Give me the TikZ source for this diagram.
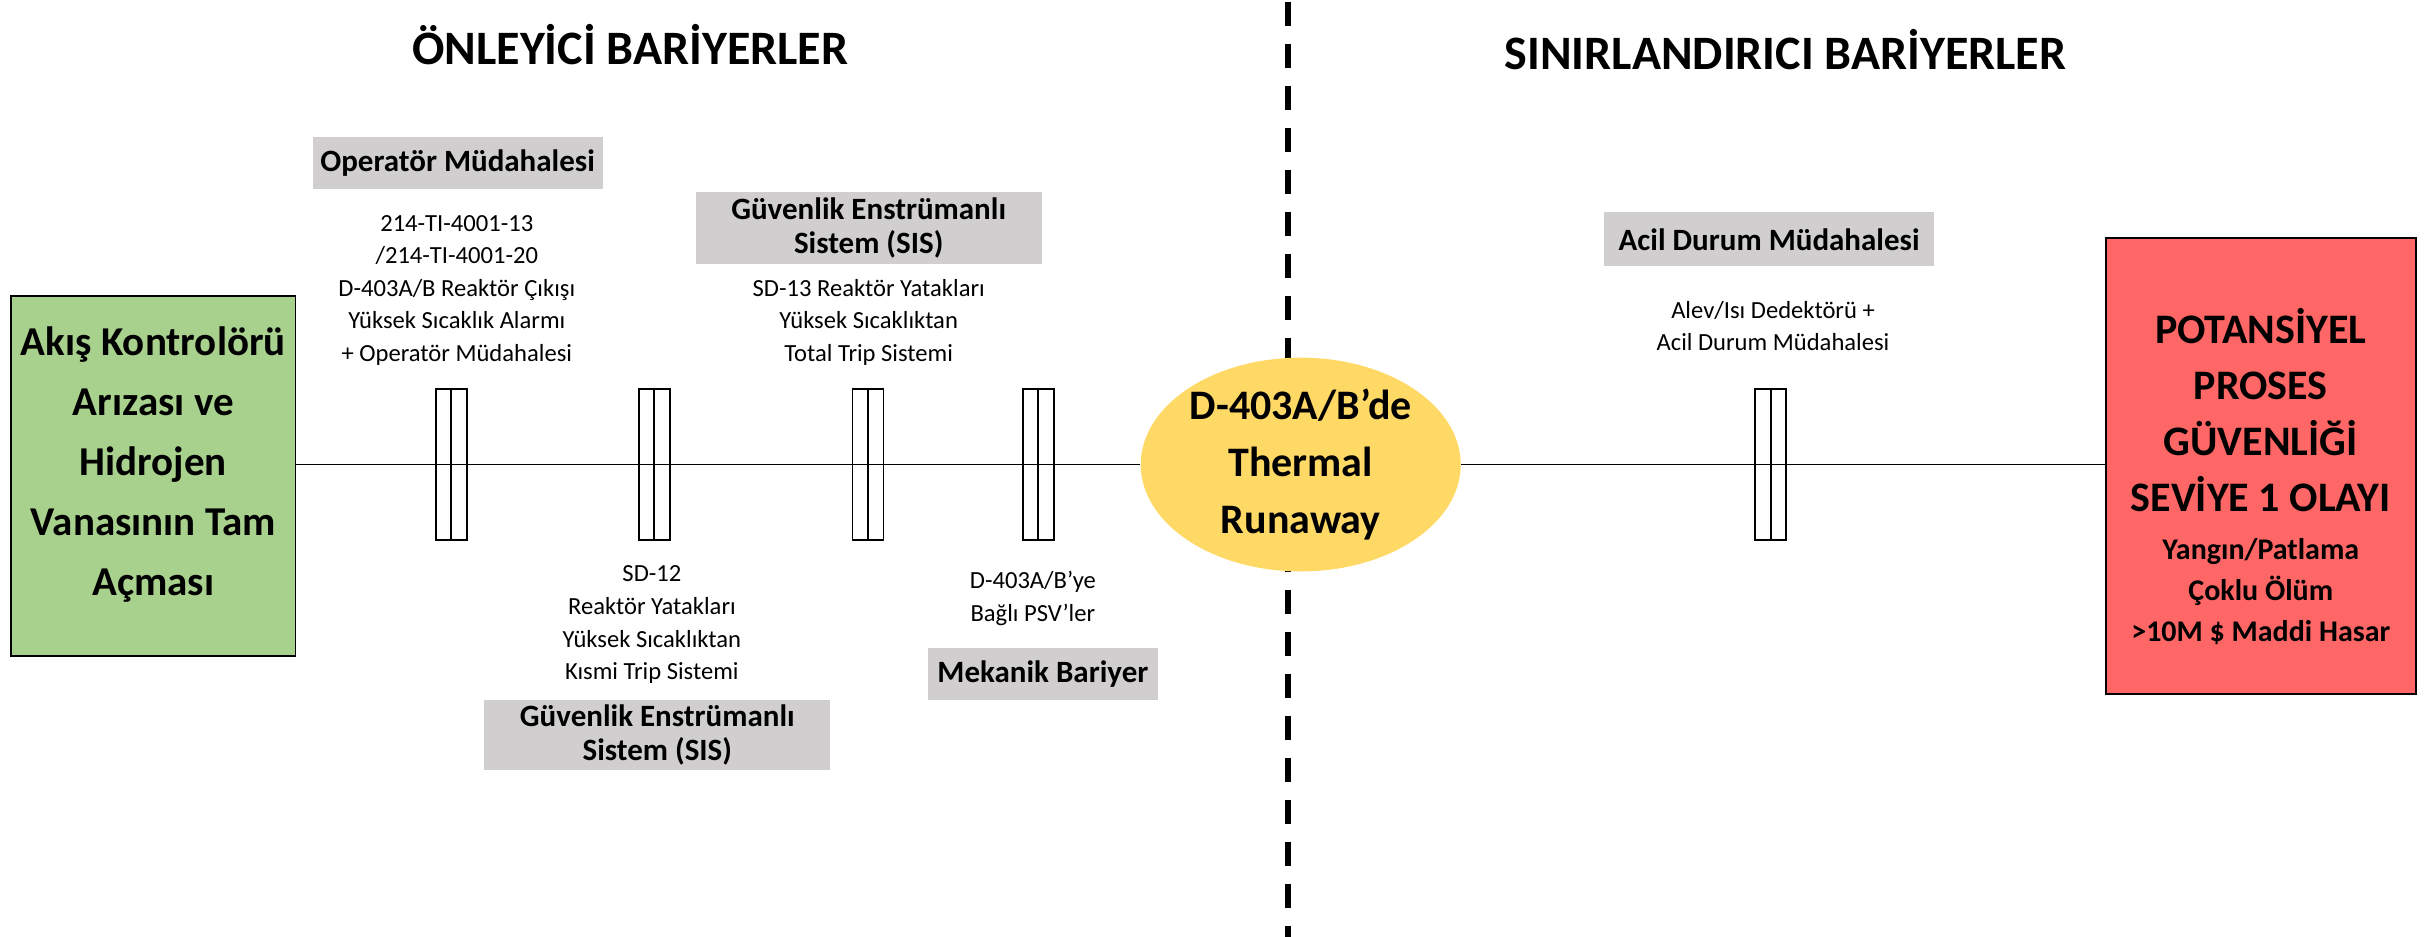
\documentclass[tikz,border=0pt]{standalone}
\usepackage{fontspec}
\setmainfont{Carlito}
\usetikzlibrary{positioning,shapes.geometric}
\definecolor{srcg}{HTML}{A9D18E}
\definecolor{topy}{HTML}{FFD966}
\definecolor{evtr}{HTML}{FF6666}
\definecolor{tagg}{HTML}{D0CECE}
\tikzset{
  title/.style={font=\fontsize{24}{28}\selectfont\bfseries},
  srcbox/.style={rectangle, draw=black, line width=0.8pt, fill=srcg,
    minimum width=142pt, minimum height=180pt, inner sep=0pt},
  srctext/.style={align=center, font=\fontsize{20.5}{30}\selectfont\bfseries},
  top/.style={ellipse, fill=topy, align=center, minimum width=160pt, minimum height=97pt,
    inner sep=0pt, font=\fontsize{21}{28.5}\selectfont\bfseries},
  evtbox/.style={rectangle, draw=black, line width=0.8pt, fill=evtr,
    minimum width=155pt, minimum height=228pt, inner sep=0pt},
  evtbig/.style={align=center, font=\fontsize{21}{28}\selectfont\bfseries},
  evtsmall/.style={align=center, font=\fontsize{15}{20.5}\selectfont\bfseries},
  tag/.style={rectangle, fill=tagg, align=center, inner sep=0pt,
    font=\fontsize{15.5}{17}\selectfont\bfseries},
  desc/.style={align=center, font=\fontsize{12.3}{16.3}\selectfont},
  barrier/.style={rectangle, draw=black, line width=0.9pt, minimum width=15.5pt,
    minimum height=75.5pt, inner sep=0pt},
  flow/.style={line width=0.6pt},
  divider/.style={line width=3pt, dash pattern=on 12pt off 9pt},
}
\begin{document}
\begin{tikzpicture}[x=0.7742pt, y=-0.7742pt]
  \useasboundingbox (0,0) rectangle (1568,605);
  % headings and divider
  \node[title] (hprev) at (407,29) {ÖNLEYİCİ BARİYERLER};
  \node[title] (hmit) at (1153,32) {SINIRLANDIRICI BARİYERLER};
  \draw[divider] (832,1) -- (832,605);
  % initiating event, top event, consequence
  \node[srcbox] (src) at (99,307.5) {};
  \node[srctext] (srct) at (99,300) {Akış Kontrolörü\\Arızası ve\\Hidrojen\\Vanasının Tam\\Açması};
  \node[top] (ell) at (840,300) {D-403A/B’de\\Thermal\\Runaway};
  \node[evtbox] (evt) at (1460,301) {};
  \node[evtbig] (evt1) at (1460,265) {POTANSİYEL\\PROSES\\GÜVENLİĞİ\\SEVİYE 1 OLAYI};
  \node[evtsmall] (evt2) at (1460,382) {Yangın/Patlama\\Çoklu Ölüm\\>10M \$ Maddi Hasar};
  \draw[flow] (src.east |- ell.west) -- (ell.west);
  \draw[flow] (ell.east) -- (ell.east -| evt.west);
  % barriers
  \foreach \x [count=\i] in {291.5,422.5,560.5,670.5,1143.5}{
    \node[barrier] (b\i) at (\x,300) {};
    \draw[line width=0.9pt] (b\i.north) -- (b\i.south);
  }
  % barrier categories
  \node[tag, minimum width=145pt, minimum height=26pt] (t1) at (295.5,105) {Operatör Müdahalesi};
  \node[tag, minimum width=173pt, minimum height=36pt] (t3) at (561,147.5) {Güvenlik Enstrümanlı\\Sistem (SIS)};
  \node[tag, minimum width=173pt, minimum height=35pt] (t2) at (424.5,474.5) {Güvenlik Enstrümanlı\\Sistem (SIS)};
  \node[tag, minimum width=115pt, minimum height=26pt] (t4) at (673.5,435.5) {Mekanik Bariyer};
  \node[tag, minimum width=165pt, minimum height=27pt] (t5) at (1142.5,154.5) {Acil Durum Müdahalesi};
  % barrier descriptions
  \node[desc] (d1) at (295,187.5) {214-TI-4001-13\\/214-TI-4001-20\\D-403A/B Reaktör Çıkışı\\Yüksek Sıcaklık Alarmı\\+ Operatör Müdahalesi};
  \node[desc] (d3) at (561,208) {SD-13 Reaktör Yatakları\\Yüksek Sıcaklıktan\\Total Trip Sistemi};
  \node[desc] (d2) at (421,403.5) {SD-12\\Reaktör Yatakları\\Yüksek Sıcaklıktan\\Kısmi Trip Sistemi};
  \node[desc] (d4) at (667,386.5) {D-403A/B’ye\\Bağlı PSV’ler};
  \node[desc] (d5) at (1145,210.5) {Alev/Isı Dedektörü +\\Acil Durum Müdahalesi};
\end{tikzpicture}
\end{document}
